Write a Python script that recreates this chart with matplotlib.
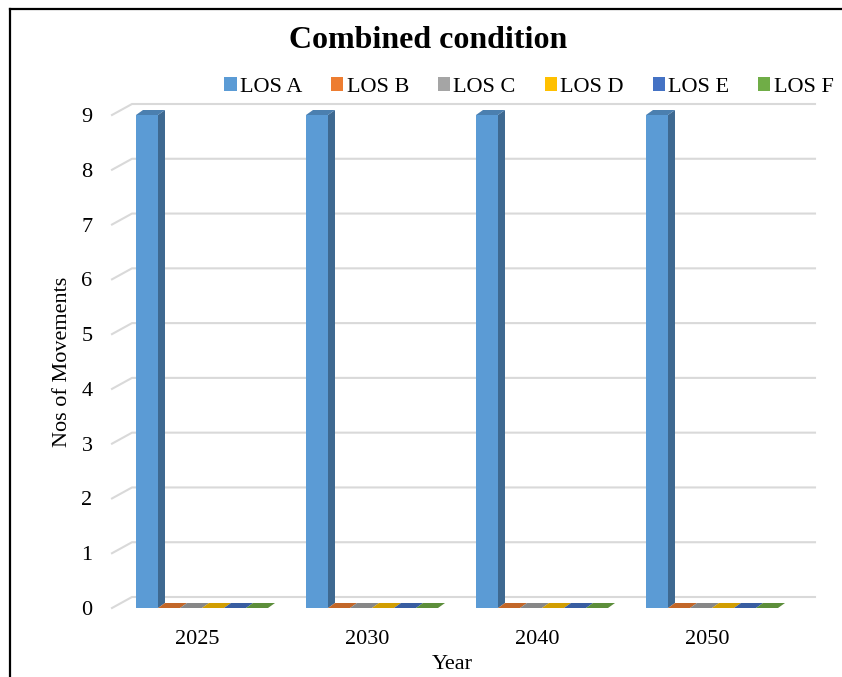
import numpy as np
import matplotlib
matplotlib.use("Agg")
import matplotlib.pyplot as plt
from matplotlib.patches import Polygon, Patch
from matplotlib.lines import Line2D
from matplotlib.colors import to_rgb

plt.rcParams["font.family"] = ["Liberation Serif", "DejaVu Serif"]

years = ["2025", "2030", "2040", "2050"]
series = ["LOS A", "LOS B", "LOS C", "LOS D", "LOS E", "LOS F"]
values = {
    "LOS A": [9, 9, 9, 9],
    "LOS B": [0, 0, 0, 0],
    "LOS C": [0, 0, 0, 0],
    "LOS D": [0, 0, 0, 0],
    "LOS E": [0, 0, 0, 0],
    "LOS F": [0, 0, 0, 0],
}
colors = ["#5B9BD5", "#ED7D31", "#A5A5A5", "#FFC000", "#4472C4", "#70AD47"]
yticks = list(range(10))


def shade(c, f):
    r, g, b = to_rgb(c)
    return (r * f, g * f, b * f)


W, H = 842, 677
fig = plt.figure(figsize=(W / 100, H / 100), dpi=100)
# axes box = front floor edge of the 3d plot area
ax = fig.add_axes([112 / W, (H - 608) / H, 680 / W, (608 - 115) / H])
ax.set_xlim(-0.5, 3.5)
ax.set_ylim(0, 9)
for s in ax.spines.values():
    s.set_visible(False)

px_x = 680 / 4.0      # pixels per category
px_y = (608 - 115) / 9.0

# back wall / floor depth
wdx, wdy = 20 / px_x, 11 / px_y
x_end = (815 - 112) / px_x - 0.5
for v in yticks:
    ax.plot([-0.5, -0.5 + wdx, x_end], [v, v + wdy, v + wdy],
            color="#d9d9d9", lw=1.5, clip_on=False, zorder=1)

# bars with a small 3d depth
bw = 22 / px_x
bdx, bdy = 7 / px_x, 5 / px_y
start = -61 / px_x
x = np.arange(len(years))
for i, name in enumerate(series):
    c = colors[i]
    left = x + start + i * bw
    vals = values[name]
    ax.bar(left, vals, bw, align="edge", color=c, lw=0, zorder=3)
    for l, v in zip(left, vals):
        top = Polygon([(l, v), (l + bw, v), (l + bw + bdx, v + bdy), (l + bdx, v + bdy)],
                      closed=True, fc=shade(c, 0.82), ec="none", zorder=3, clip_on=False)
        side = Polygon([(l + bw, 0), (l + bw + bdx, bdy), (l + bw + bdx, v + bdy), (l + bw, v)],
                       closed=True, fc=shade(c, 0.68), ec="none", zorder=3, clip_on=False)
        ax.add_patch(side)
        ax.add_patch(top)

ax.set_xticks(x)
ax.set_xticklabels(years, fontsize=16)
ax.set_yticks(yticks)
ax.set_yticklabels([str(t) for t in yticks], fontsize=16)
ax.tick_params(axis="both", length=0)
ax.tick_params(axis="x", pad=16)
ax.tick_params(axis="y", pad=14)
ax.set_xlabel("Year", fontsize=16, labelpad=4)
ax.set_ylabel("Nos of Movements", fontsize=16, labelpad=7)

fig.text(428 / W, 1 - 41 / H, "Combined condition", fontsize=23, fontweight="bold",
         ha="center", va="center")

handles = [Patch(facecolor=c, edgecolor="none") for c in colors]
fig.legend(handles, series, loc="center", bbox_to_anchor=(529 / W, 1 - 87 / H),
           ncol=6, frameon=False, fontsize=16, handlelength=0.55, handleheight=0.55,
           handletextpad=0.15, columnspacing=1.3, borderpad=0)

# outer frame (left and top edges)
fig.add_artist(Line2D([10 / W, 10 / W], [0, 1 - 9 / H], color="black", lw=1.6))
fig.add_artist(Line2D([10 / W, 1], [1 - 9 / H, 1 - 9 / H], color="black", lw=1.6))

fig.savefig("out.png", dpi=100)
